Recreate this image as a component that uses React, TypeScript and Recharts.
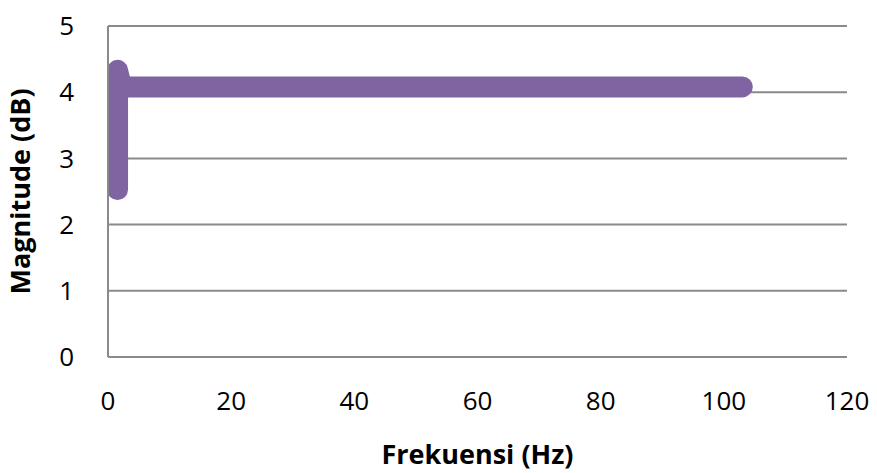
import React from 'react';
import { LineChart, Line, XAxis, YAxis, CartesianGrid, Label } from 'recharts';

const freqHz = [1.55, 1.55, 2.2, 103];
const magnitudeDb = [2.53, 4.33, 4.08, 4.08];
const xTicks = [0, 20, 40, 60, 80, 100, 120];
const yTicks = [0, 1, 2, 3, 4, 5];

const data = freqHz.map((f, i) => ({ f, m: magnitudeDb[i] }));

const FONT = '"Open Sans", "DejaVu Sans", sans-serif';

export default function App() {
  return (
    <div style={{ position: 'absolute', left: 0, top: 0, background: '#fff' }}>
      <LineChart
        width={877}
        height={473}
        data={data}
        margin={{ top: 26, right: 30, left: 0, bottom: 0 }}
      >
        <CartesianGrid vertical={false} stroke="#8a8a8a" strokeWidth={2} />
        <XAxis
          type="number"
          dataKey="f"
          domain={[0, 120]}
          ticks={xTicks}
          interval={0}
          tickLine={false}
          axisLine={{ stroke: '#8a8a8a', strokeWidth: 2 }}
          tick={{ fill: '#000', fontSize: 26, fontFamily: FONT }}
          tickMargin={29}
          height={116}
        >
          <Label
            value="Frekuensi (Hz)"
            position="insideBottom"
            offset={9}
            style={{ fontSize: 27, fontWeight: 700, fontFamily: FONT, fill: '#000' }}
          />
        </XAxis>
        <YAxis
          type="number"
          domain={[0, 5]}
          ticks={yTicks}
          interval={0}
          tickLine={false}
          axisLine={{ stroke: '#8a8a8a', strokeWidth: 2 }}
          tick={{ fill: '#000', fontSize: 26, fontFamily: FONT }}
          tickMargin={28}
          width={108}
        >
          <Label
            value="Magnitude (dB)"
            angle={-90}
            position="insideLeft"
            offset={20}
            textAnchor="middle"
            style={{ fontSize: 27, fontWeight: 700, fontFamily: FONT, fill: '#000', textAnchor: 'middle' }}
          />
        </YAxis>
        <Line
          type="linear"
          dataKey="m"
          stroke="#8064A2"
          strokeWidth={21}
          strokeLinecap="round"
          strokeLinejoin="round"
          dot={false}
          activeDot={false}
          isAnimationActive={false}
        />
      </LineChart>
    </div>
  );
}
